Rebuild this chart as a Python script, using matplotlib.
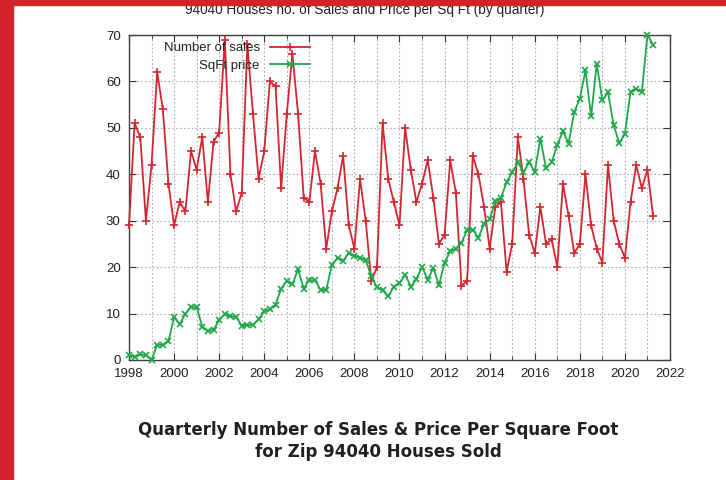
import numpy as np
import matplotlib
matplotlib.use("Agg")
import matplotlib.pyplot as plt
from matplotlib.patches import Rectangle

# quarterly data, 1998 Q1 .. 2021 Q2
quarters = np.arange(1998, 2021.5, 0.25)

sales = [
    29, 51, 48, 30,
    42, 62, 54, 38,
    29, 34, 32, 45,
    41, 48, 34, 47,
    49, 69, 40, 32,
    36, 68, 53, 39,
    45, 60, 59, 37,
    53, 66, 53, 35,
    34, 45, 38, 24,
    32, 37, 44, 29,
    24, 39, 30, 17,
    20, 51, 39, 34,
    29, 50, 41, 34,
    38, 43, 35, 25,
    27, 43, 36, 16,
    17, 44, 40, 33,
    24, 33, 34, 19,
    25, 48, 39, 27,
    23, 33, 25, 26,
    20, 38, 31, 23,
    25, 40, 29, 24,
    21, 42, 30, 25,
    22, 34, 42, 37,
    41, 31,
]

sqft_price = [
    1.1, 0.7, 1.2, 1.1,
    0.0, 3.3, 3.2, 4.0,
    9.3, 7.7, 10.0, 11.4,
    11.4, 7.2, 6.2, 6.5,
    8.6, 9.9, 9.4, 9.3,
    7.4, 7.5, 7.6, 8.8,
    10.5, 10.9, 11.9, 15.4,
    17.0, 16.3, 19.5, 15.4,
    17.2, 17.2, 15.1, 15.1,
    20.5, 22.0, 21.4, 23.0,
    22.5, 22.0, 21.5, 18.0,
    15.7, 15.0, 13.7, 15.8,
    16.5, 18.4, 15.8, 17.4,
    20.1, 17.3, 19.8, 16.1,
    21.0, 23.4, 24.0, 25.2,
    28.0, 28.1, 26.3, 29.4,
    30.3, 34.3, 34.9, 38.3,
    40.4, 42.6, 40.4, 42.6,
    40.5, 47.7, 41.3, 42.6,
    46.3, 49.3, 46.6, 53.4,
    56.3, 62.4, 52.5, 63.8,
    55.9, 57.7, 50.6, 46.7,
    48.7, 57.8, 58.4, 57.7,
    70.0, 67.9,
]

x_major = list(range(1998, 2023, 2))
x_minor = list(range(1999, 2023, 2))
y_ticks = list(range(0, 71, 10))

RED = "#d32630"
GREEN = "#1ea84a"
BAND = "#d2232d"

plt.rcParams["font.family"] = ["Liberation Sans", "DejaVu Sans"]

fig = plt.figure(figsize=(7.26, 4.8), dpi=100)
ax = fig.add_axes([129 / 726, 120 / 480, 541 / 726, 325 / 480])

ax.plot(quarters, sales, color=RED, lw=1.3, marker="+", ms=6, mew=1.2,
        label="Number of sales", clip_on=False, zorder=3)
ax.plot(quarters, sqft_price, color=GREEN, lw=1.3, marker="x", ms=4.5, mew=1.2,
        label="SqFt price", clip_on=False, zorder=3)

ax.set_xlim(1998, 2022)
ax.set_ylim(0, 70)
ax.set_xticks(x_major)
ax.set_xticks(x_minor, minor=True)
ax.set_yticks(y_ticks)

ax.grid(True, which="both", color="#b0b0b0", lw=0.8, linestyle=(0, (1.5, 2)))
ax.set_axisbelow(True)
ax.tick_params(which="both", direction="in", top=True, right=True,
               colors="#333333", labelcolor="#222222", labelsize=9.5)
ax.tick_params(which="major", length=5, pad=6)
ax.tick_params(which="minor", length=3)
for sp in ax.spines.values():
    sp.set_color("#404040")
    sp.set_linewidth(1.0)

leg = ax.legend(loc="upper right", bbox_to_anchor=(0.337, 0.982), markerfirst=False,
                frameon=False, fontsize=9.5, handlelength=3.0, handletextpad=0.8,
                labelspacing=0.4, borderpad=0.1, borderaxespad=0.0)
for t in leg.get_texts():
    t.set_color("#222222")

fig.text(365 / 726, 1 - 14 / 480, "94040 Houses no. of Sales and Price per Sq Ft (by quarter)",
         ha="center", va="baseline", fontsize=9.8, color="#222222")

fig.text(378 / 726, 1 - 441 / 480,
         "Quarterly Number of Sales & Price Per Square Foot\nfor Zip 94040 Houses Sold",
         ha="center", va="center", fontsize=12, fontweight="bold",
         family="DejaVu Sans", color="#231f20", linespacing=1.25)

# red page frame
fig.patches.append(Rectangle((0, 0), 13 / 726, 1, transform=fig.transFigure,
                             color=BAND, zorder=10))
fig.patches.append(Rectangle((0, 1 - 5 / 480), 1, 5 / 480, transform=fig.transFigure,
                             color=BAND, zorder=10))

fig.savefig("out.png", dpi=100)
